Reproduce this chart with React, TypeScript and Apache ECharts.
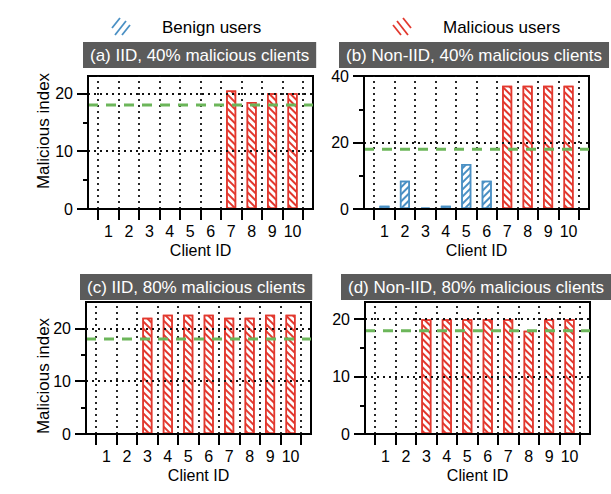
import React, { useEffect, useRef } from 'react';
import * as echarts from 'echarts';

// ---------- data ----------
const clientIds = [1, 2, 3, 4, 5, 6, 7, 8, 9, 10];
const xTickValues = [0.5, 1.5, 2.5, 3.5, 4.5, 5.5, 6.5, 7.5, 8.5, 9.5, 10.5];
const threshold = 18;

const panelTitles = [
  '(a) IID, 40% malicious clients',
  '(b) Non-IID, 40% malicious clients',
  '(c) IID, 80% malicious clients',
  '(d) Non-IID, 80% malicious clients',
];

const benignA = [0, 0, 0, 0, 0, 0, null, null, null, null];
const maliciousA = [null, null, null, null, null, null, 20.5, 18.5, 20, 20];
const benignB = [1.0, 8.5, 0.4, 1.0, 13.5, 8.5, null, null, null, null];
const maliciousB = [null, null, null, null, null, null, 37.1, 37.1, 37.1, 37.1];
const benignC = [0, 0, null, null, null, null, null, null, null, null];
const maliciousC = [null, null, 22, 22.6, 22.6, 22.6, 22, 22, 22.6, 22.6];
const benignD = [0, 0, null, null, null, null, null, null, null, null];
const maliciousD = [null, null, 20, 20, 20, 20, 20, 18, 20, 20];

const yMajorA = [0, 10, 20];
const yMinorA = [5, 15];
const yMajorB = [0, 20, 40];
const yMinorB = [10, 30];
const yMajorC = [0, 10, 20];
const yMinorC = [5, 15];
const yMajorD = [0, 10, 20];
const yMinorD = [5, 15];

const legendNames = ['Benign users', 'Malicious users'];
const xAxisName = 'Client ID';
const yAxisName = 'Malicious index';

// ---------- style / layout ----------
const FONT = "'Liberation Sans', Arial, Helvetica, sans-serif";
const RED = '#e2382e';
const BLUE = '#4a90c4';
const GREEN = '#6cb65a';

const panels = [
  { title: panelTitles[0], benign: benignA, malicious: maliciousA, yMax: 23, yMajor: yMajorA, yMinor: yMinorA,
    grid: { left: 88, top: 76, width: 225, height: 133 }, titlePos: { left: 83, top: 42 }, yName: { x: 43, y: 131 } },
  { title: panelTitles[1], benign: benignB, malicious: maliciousB, yMax: 40, yMajor: yMajorB, yMinor: yMinorB,
    grid: { left: 364, top: 76, width: 225, height: 133 }, titlePos: { left: 339, top: 42 }, yName: null },
  { title: panelTitles[2], benign: benignC, malicious: maliciousC, yMax: 25, yMajor: yMajorC, yMinor: yMinorC,
    grid: { left: 86, top: 302, width: 225, height: 132 }, titlePos: { left: 80, top: 274 }, yName: { x: 43, y: 376 } },
  { title: panelTitles[3], benign: benignD, malicious: maliciousD, yMax: 23, yMajor: yMajorD, yMinor: yMinorD,
    grid: { left: 365, top: 302, width: 225, height: 132 }, titlePos: { left: 341, top: 274 }, yName: null },
];

const decalRed = { symbol: 'rect', symbolSize: 1, color: RED, dashArrayX: [1, 0], dashArrayY: [1.3, 3], rotation: Math.PI / 4 };
const decalBlue = { symbol: 'rect', symbolSize: 1, color: BLUE, dashArrayX: [1, 0], dashArrayY: [1.3, 3], rotation: -Math.PI / 4 };

function toPoints(vals: (number | null)[]) {
  const out: number[][] = [];
  clientIds.forEach((id, i) => {
    const v = vals[i];
    if (v !== null && v !== undefined) out.push([id, v]);
  });
  return out;
}

function buildOption() {
  const grid: any[] = [];
  const xAxis: any[] = [];
  const yAxis: any[] = [];
  const series: any[] = [];
  const title: any[] = [];
  const graphic: any[] = [];

  panels.forEach((p, i) => {
    grid.push({
      ...p.grid,
      show: true,
      borderColor: '#000',
      borderWidth: 2,
      backgroundColor: 'transparent',
      containLabel: false,
      outerBoundsMode: 'none',
    });
    xAxis.push({
      type: 'value',
      gridIndex: i,
      min: 0,
      max: 11,
      position: 'bottom',
      name: xAxisName,
      nameLocation: 'middle',
      nameGap: 33,
      nameTextStyle: { fontSize: 16, color: '#000', fontFamily: FONT },
      axisLine: { show: true, onZero: false, lineStyle: { color: '#000', width: 2 } },
      axisTick: { show: true, customValues: xTickValues, length: 11, lineStyle: { color: '#000', width: 2 } },
      axisLabel: { show: true, customValues: clientIds, fontSize: 16, color: '#000', fontFamily: FONT, margin: 14 },
      splitLine: { show: false },
      z: 10,
    });
    yAxis.push({
      type: 'value',
      gridIndex: i,
      min: 0,
      max: p.yMax,
      position: 'left',
      axisLine: { show: true, onZero: false, lineStyle: { color: '#000', width: 2 } },
      axisTick: { show: true, customValues: p.yMajor, length: 11, lineStyle: { color: '#000', width: 2 } },
      axisLabel: { show: true, customValues: p.yMajor, fontSize: 16, color: '#000', fontFamily: FONT, margin: 15 },
      splitLine: { show: false },
      z: 10,
    });
    yAxis.push({
      type: 'value',
      gridIndex: i,
      min: 0,
      max: p.yMax,
      position: 'left',
      axisLine: { show: false },
      axisTick: { show: true, customValues: p.yMinor, length: 5, lineStyle: { color: '#000', width: 2 } },
      axisLabel: { show: false },
      splitLine: { show: false },
      z: 10,
    });

    const hLines = p.yMajor.filter((v) => v > 0 && v < p.yMax);
    series.push({
      type: 'line',
      xAxisIndex: i,
      yAxisIndex: 2 * i,
      data: [],
      silent: true,
      z: 1,
      markLine: {
        silent: true,
        symbol: ['none', 'none'],
        label: { show: false },
        emphasis: { disabled: true },
        lineStyle: { color: '#111', type: [2, 4], width: 1.8, cap: 'butt' },
        data: [
          ...xTickValues.map((v) => ({ xAxis: v })),
          ...hLines.map((v) => ({ yAxis: v })),
        ],
      },
    });
    series.push({
      name: legendNames[0],
      type: 'bar',
      xAxisIndex: i,
      yAxisIndex: 2 * i,
      data: toPoints(p.benign),
      barWidth: 10,
      barGap: '-100%',
      z: 2,
      silent: true,
      itemStyle: { color: '#fff', borderColor: BLUE, borderWidth: 1.5, decal: decalBlue },
    });
    series.push({
      name: legendNames[1],
      type: 'bar',
      xAxisIndex: i,
      yAxisIndex: 2 * i,
      data: toPoints(p.malicious),
      barWidth: 10,
      barGap: '-100%',
      z: 2,
      silent: true,
      itemStyle: { color: '#fff', borderColor: RED, borderWidth: 1.5, decal: decalRed },
    });
    series.push({
      type: 'line',
      xAxisIndex: i,
      yAxisIndex: 2 * i,
      data: [[0, threshold], [11, threshold]],
      symbol: 'none',
      silent: true,
      z: 5,
      lineStyle: { color: GREEN, width: 3, type: [10, 8] },
    });

    title.push({
      text: p.title,
      left: p.titlePos.left,
      top: p.titlePos.top,
      backgroundColor: '#5b5b5b',
      padding: [3, 7],
      itemGap: 0,
      textStyle: { color: '#fff', fontSize: 17, fontWeight: 'normal', fontFamily: FONT, lineHeight: 20 },
    });

    if (p.yName) {
      graphic.push({
        type: 'text',
        x: p.yName.x,
        y: p.yName.y,
        rotation: Math.PI / 2,
        style: {
          text: yAxisName,
          fill: '#000',
          font: `17px ${FONT}`,
          align: 'center',
          verticalAlign: 'middle',
        },
      });
    }
  });

  // legend (hatch icons + labels)
  const blueLines = [
    [112, 28, 120, 18],
    [115, 35, 126, 21],
    [122, 35, 130, 25],
  ];
  const redLines = blueLines.map(([x1, y1, x2, y2]) => [523 - x1, y1, 523 - x2, y2]);
  blueLines.forEach(([x1, y1, x2, y2]) =>
    graphic.push({ type: 'line', shape: { x1, y1, x2, y2 }, style: { stroke: BLUE, lineWidth: 1.8 } })
  );
  redLines.forEach(([x1, y1, x2, y2]) =>
    graphic.push({ type: 'line', shape: { x1, y1, x2, y2 }, style: { stroke: RED, lineWidth: 1.8 } })
  );
  graphic.push({
    type: 'text', x: 162, y: 27,
    style: { text: legendNames[0], fill: '#000', font: `17px ${FONT}`, align: 'left', verticalAlign: 'middle' },
  });
  graphic.push({
    type: 'text', x: 443, y: 27,
    style: { text: legendNames[1], fill: '#000', font: `17px ${FONT}`, align: 'left', verticalAlign: 'middle' },
  });

  return {
    animation: false,
    backgroundColor: '#fff',
    textStyle: { fontFamily: FONT },
    title,
    grid,
    xAxis,
    yAxis,
    series,
    graphic,
  };
}

export default function App() {
  const ref = useRef<HTMLDivElement>(null);
  useEffect(() => {
    if (!ref.current) return;
    const chart = echarts.init(ref.current, undefined, { renderer: 'svg' });
    chart.setOption(buildOption() as any);
    return () => chart.dispose();
  }, []);
  return (
    <div
      ref={ref}
      style={{ position: 'fixed', left: 0, top: 0, width: 611, height: 494, background: '#fff' }}
    />
  );
}
